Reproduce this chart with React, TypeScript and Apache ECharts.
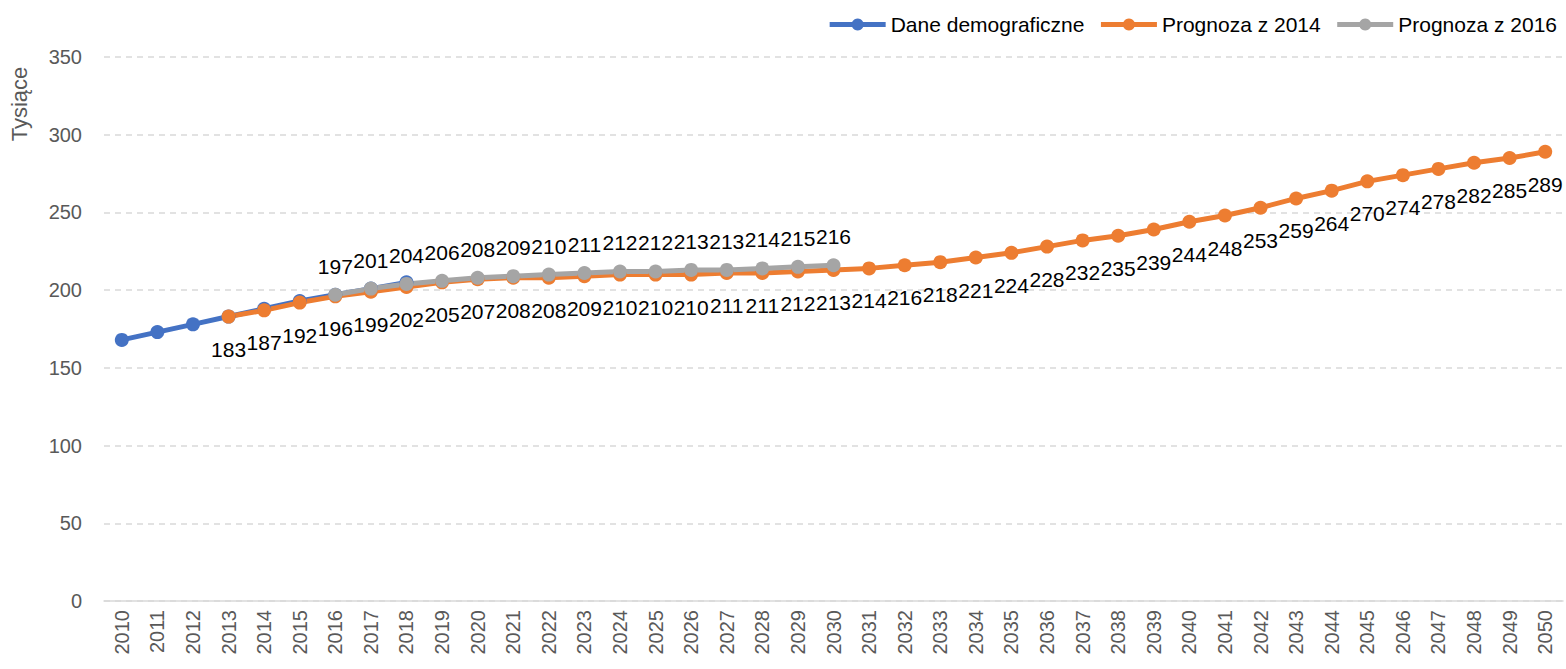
import React, { useEffect, useRef } from "react";
import * as echarts from "echarts";

const years = [
  "2010","2011","2012","2013","2014","2015","2016","2017","2018","2019",
  "2020","2021","2022","2023","2024","2025","2026","2027","2028","2029",
  "2030","2031","2032","2033","2034","2035","2036","2037","2038","2039",
  "2040","2041","2042","2043","2044","2045","2046","2047","2048","2049","2050",
];

// Dane demograficzne 2010–2018
const daneDemograficzne = [168, 173, 178, 183, 188, 193, 197, 201, 205];
// Prognoza z 2014: 2013–2050
const prognoza2014 = [
  183, 187, 192, 196, 199, 202, 205, 207, 208, 208, 209, 210, 210, 210, 211, 211, 212, 213,
  214, 216, 218, 221, 224, 228, 232, 235, 239, 244, 248, 253, 259, 264, 270, 274, 278, 282, 285, 289,
];
// Prognoza z 2016: 2016–2030
const prognoza2016 = [197, 201, 204, 206, 208, 209, 210, 211, 212, 212, 213, 213, 214, 215, 216];

const yTicks = { min: 0, max: 350, interval: 50 };

function place(values: number[], startYear: string): (number | null)[] {
  const start = years.indexOf(startYear);
  return years.map((_, i) => (i >= start && i - start < values.length ? values[i - start] : null));
}

const FONT = "Liberation Sans";

export default function App() {
  const ref = useRef<HTMLDivElement>(null);
  useEffect(() => {
    const chart = echarts.init(ref.current!, null, { renderer: "svg" });
    const lineSeries = (name: string, color: string, data: (number | null)[], label: any) => ({
      name,
      type: "line",
      data,
      color,
      symbol: "circle",
      symbolSize: 14,
      lineStyle: { width: 5, color },
      itemStyle: { color },
      label,
      emphasis: { disabled: true },
    });
    chart.setOption({
      animation: false,
      textStyle: { fontFamily: FONT },
      grid: { left: 104, right: 3, top: 57, bottom: 68, containLabel: false },
      legend: {
        top: 9,
        right: 4,
        itemWidth: 56,
        itemHeight: 15,
        itemGap: 14,
        lineStyle: { width: 5 },
        textStyle: { fontFamily: FONT, fontSize: 21, color: "#000", padding: [0, 0, 0, 0] },
        data: ["Dane demograficzne", "Prognoza z 2014", "Prognoza z 2016"],
      },
      xAxis: {
        type: "category",
        data: years,
        boundaryGap: true,
        axisLine: { show: true, lineStyle: { color: "#d9d9d9", width: 1.5 } },
        axisTick: { show: false },
        axisLabel: {
          rotate: 90,
          interval: 0,
          margin: 9,
          color: "#595959",
          fontSize: 20,
          fontFamily: FONT,
        },
        splitLine: { show: false },
      },
      yAxis: {
        type: "value",
        min: yTicks.min,
        max: yTicks.max,
        interval: yTicks.interval,
        axisLine: { show: false },
        axisTick: { show: false },
        axisLabel: { color: "#595959", fontSize: 20, fontFamily: FONT, margin: 22 },
        splitLine: { lineStyle: { color: "#d9d9d9", type: [6, 5], width: 1.5 } },
      },
      graphic: [
        {
          type: "text",
          x: 19,
          y: 104,
          rotation: Math.PI / 2,
          style: {
            text: "Tysiące",
            fill: "#595959",
            font: `22px "${FONT}"`,
            align: "center",
            verticalAlign: "middle",
          },
        },
      ],
      series: [
        lineSeries("Dane demograficzne", "#4472C4", place(daneDemograficzne, "2010"), { show: false }),
        lineSeries("Prognoza z 2014", "#ED7D31", place(prognoza2014, "2013"), {
          show: true,
          position: "bottom",
          distance: 15,
          color: "#000",
          fontSize: 21,
          fontFamily: FONT,
        }),
        lineSeries("Prognoza z 2016", "#A5A5A5", place(prognoza2016, "2016"), {
          show: true,
          position: "top",
          distance: 11,
          color: "#000",
          fontSize: 21,
          fontFamily: FONT,
        }),
      ],
    });
    return () => chart.dispose();
  }, []);
  return (
    <div
      ref={ref}
      style={{ position: "fixed", left: 0, top: 0, width: 1566, height: 669, background: "#fff" }}
    />
  );
}
